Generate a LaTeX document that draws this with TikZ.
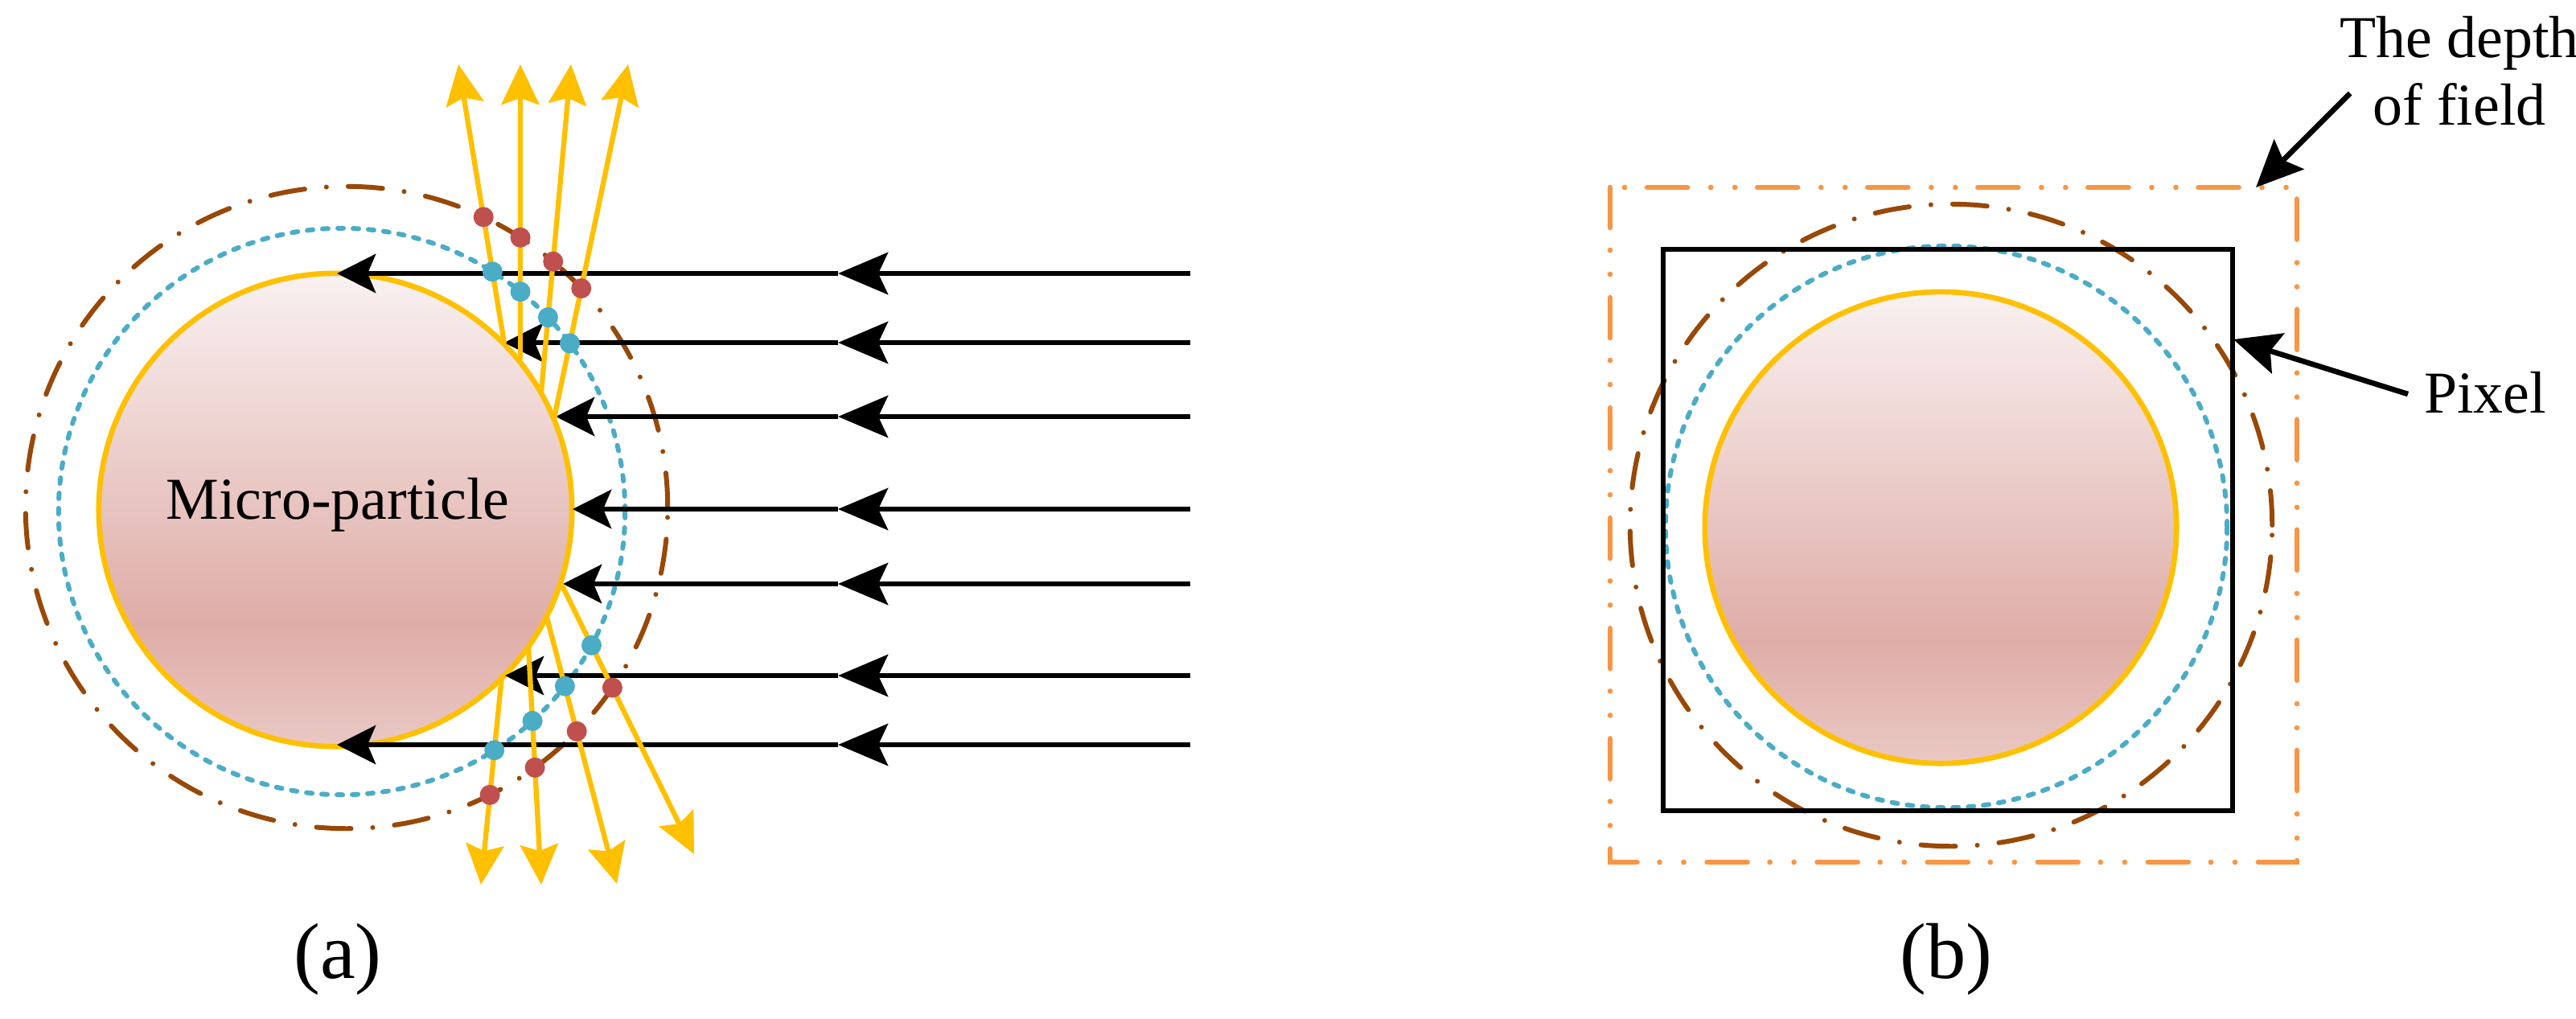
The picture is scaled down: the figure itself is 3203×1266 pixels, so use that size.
\documentclass[tikz,border=0pt]{standalone}
\usepackage{fontspec}
\newfontfamily\tnr{Liberation Serif}
\usetikzlibrary{arrows.meta,intersections}
\definecolor{ray}{RGB}{255,192,0}
\definecolor{bluec}{RGB}{75,172,198}
\definecolor{brownc}{RGB}{152,72,7}
\definecolor{redd}{RGB}{192,80,77}
\definecolor{orangec}{RGB}{247,150,70}
\definecolor{ptop}{RGB}{249,241,241}
\definecolor{pmid}{RGB}{223,173,167}
\definecolor{pbot}{RGB}{234,200,196}
\pgfdeclareverticalshading{part}{100bp}{color(0bp)=(pbot); color(25bp)=(pbot); color(38bp)=(pmid); color(75bp)=(ptop); color(100bp)=(ptop)}
\tikzset{
  particle/.style={draw=ray, line width=1.9pt, shading=part},
  bluecirc/.style={draw=bluec, line width=1.7pt, line cap=round, dash pattern=on 0.07cm off 0.12cm},
  browncirc/.style={draw=brownc, line width=1.7pt, line cap=round, dash pattern=on 0.43cm off 0.27cm on 0pt off 0.27cm},
  inc/.style={line width=1.9pt, -{Stealth[length=0.62cm,width=0.52cm,inset=0.12cm]}},
  incend/.style={line width=1.9pt, -{Stealth[length=0.48cm,width=0.48cm,inset=0.1cm]}},
  rayl/.style={draw=ray, line width=1.8pt, -{Stealth[length=0.5cm,width=0.47cm,inset=0.08cm]}},
  bdot/.style={fill=bluec, draw=none},
  rdot/.style={fill=redd, draw=none},
  lbl/.style={font=\tnr\fontsize{21}{24}\selectfont},
  panelcap/.style={font=\tnr\fontsize{28}{32}\selectfont},
  pointer/.style={line width=1.9pt, -{Stealth[length=0.58cm,width=0.52cm,inset=0.1cm]}},
}
\begin{document}
\begin{tikzpicture}[x=0.01cm,y=-0.01cm]
\useasboundingbox (0,0) rectangle (3203,1266);
% ---------- panel (a)
\path[browncirc, name path global=RC] (431,631) circle[radius=3.99cm];
\path[bluecirc, name path global=BC] (425,636) circle[radius=3.52cm];
\path[particle] (417,634) circle[radius=2.94cm];
\node[lbl, anchor=base] (mp) at (420,645) {Micro-particle};
% incoming rays
\foreach \y/\xe [count=\i] in {340/419,426/627,518/691,633/712,726/700,840/628,926/419}{
  \coordinate (s\i) at (1480,\y);
  \coordinate (m\i) at (1042,\y);
  \coordinate (e\i) at (\xe,\y);
  \draw[inc] (s\i) -- (m\i);
  \draw[incend] (m\i) -- (e\i);
}
% scattered rays
\foreach \n/\sx/\sy/\tx/\ty in {u1/627/427/570/80, u2/647/447/647/80, u3/673/487/710/80, u4/689/520/781/80,
                                d1/624/840/598/1100, d2/657/803/673/1100, d3/680/768/767/1099, d4/699/728/863/1062}{
  \coordinate (\n s) at (\sx,\sy);
  \coordinate (\n t) at (\tx,\ty);
  \draw[rayl, name path=\n] (\n s) -- (\n t);
  \path[name intersections={of=BC and \n, by={\n b}}];
  \path[name intersections={of=RC and \n, by={\n r}}];
  \fill[bdot] (\n b) circle[radius=0.125cm];
  \fill[rdot] (\n r) circle[radius=0.125cm];
}
\node[panelcap] (la) at (420,1193) {(a)};
% ---------- panel (b)
\draw[orangec, line width=1.9pt, dash pattern=on 0.5cm off 0.28cm on 0pt off 0.3cm on 0pt off 0.29cm, line cap=round] (2002,233) rectangle (2856,1072);
\path[browncirc] (2426,653) circle[radius=3.99cm];
\path[bluecirc] (2420,655) circle[radius=3.49cm];
\path[particle] (2413,656) circle[radius=2.93cm];
\draw[line width=1.9pt] (2068,310) rectangle (2776,1008);
\coordinate (dofp) at (2805,233);
\coordinate (pixp) at (2777,422);
\node[lbl, align=center] (dof) at (3058,88) {The depth\\of field};
\node[lbl] (pix) at (3090,488) {Pixel};
\coordinate (dofs) at (2922,116);
\coordinate (pixs) at (2994,490);
\draw[pointer] (dofs) -- (dofp);
\draw[pointer] (pixs) -- (pixp);
\node[panelcap] (lb) at (2420,1193) {(b)};
\end{tikzpicture}
\end{document}
